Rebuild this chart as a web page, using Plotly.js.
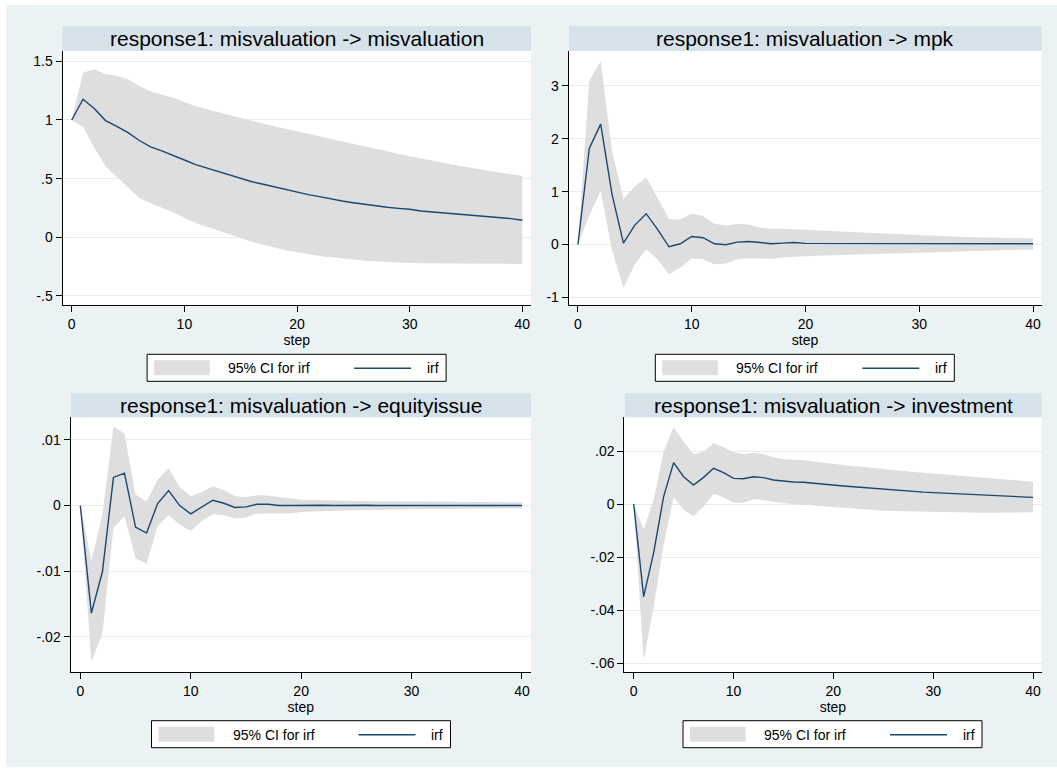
<!DOCTYPE html>
<html><head><meta charset="utf-8">
<script src="https://cdn.plot.ly/plotly-3.0.1.min.js"></script>
<style>html,body{margin:0;padding:0;background:#fff}#chart{width:1057px;height:769px}</style>
</head><body><div id="chart"></div>
<script>
// ---------------- DATA ----------------
const steps = [0,1,2,3,4,5,6,7,8,9,10,11,12,13,14,15,16,17,18,19,20,21,22,23,24,25,26,27,28,29,30,31,32,33,34,35,36,37,38,39,40];

const panelTitles = [
  "response1: misvaluation -> misvaluation",
  "response1: misvaluation -> mpk",
  "response1: misvaluation -> equityissue",
  "response1: misvaluation -> investment"
];
const legendLabels = ["95% CI for irf", "irf"];
const xTitle = "step";
const xTickVals = [0,10,20,30,40];

// misvaluation -> misvaluation
const misvIrf = [1.000,1.177,1.098,0.995,0.945,0.892,0.825,0.770,0.737,0.700,0.659,0.619,0.589,0.561,0.529,0.503,0.474,0.452,0.429,0.406,0.384,0.364,0.347,0.327,0.310,0.295,0.281,0.270,0.256,0.247,0.239,0.224,0.216,0.207,0.199,0.193,0.185,0.176,0.170,0.159,0.145];
const misvUpper = [1.000,1.402,1.433,1.389,1.377,1.345,1.292,1.243,1.215,1.189,1.153,1.118,1.091,1.066,1.038,1.014,0.988,0.969,0.946,0.926,0.903,0.884,0.861,0.838,0.818,0.795,0.776,0.753,0.733,0.710,0.690,0.670,0.651,0.634,0.616,0.599,0.582,0.565,0.551,0.537,0.523];
const misvLower = [1.000,0.942,0.764,0.604,0.515,0.424,0.335,0.291,0.253,0.214,0.167,0.123,0.090,0.058,0.024,-0.010,-0.038,-0.063,-0.088,-0.111,-0.128,-0.145,-0.159,-0.170,-0.182,-0.190,-0.199,-0.205,-0.210,-0.216,-0.219,-0.221,-0.222,-0.223,-0.224,-0.225,-0.225,-0.226,-0.226,-0.227,-0.227];
const misvTickVals = [-0.5,0,0.5,1,1.5];
const misvTickText = ["-.5","0",".5","1","1.5"];

// misvaluation -> mpk
const mpkIrf = [0,1.816,2.278,0.949,0.025,0.367,0.582,0.285,-0.044,0.013,0.152,0.127,0.013,-0.006,0.044,0.057,0.038,0.013,0.025,0.038,0.020,0.020,0.020,0.020,0.020,0.020,0.020,0.020,0.020,0.015,0.012,0.012,0.012,0.012,0.012,0.012,0.012,0.012,0.012,0.015,0.012];
const mpkUpper = [0,3.10,3.47,1.77,0.867,1.095,1.266,0.886,0.475,0.475,0.582,0.538,0.392,0.361,0.386,0.380,0.316,0.297,0.297,0.285,0.279,0.265,0.252,0.245,0.238,0.228,0.218,0.208,0.196,0.185,0.170,0.160,0.152,0.145,0.140,0.135,0.130,0.125,0.120,0.117,0.114];
const mpkLower = [0,0.55,1.013,-0.11,-0.818,-0.374,-0.089,-0.279,-0.564,-0.437,-0.266,-0.279,-0.374,-0.361,-0.279,-0.260,-0.266,-0.273,-0.247,-0.228,-0.222,-0.215,-0.210,-0.205,-0.200,-0.195,-0.188,-0.180,-0.172,-0.163,-0.155,-0.147,-0.140,-0.133,-0.126,-0.120,-0.114,-0.108,-0.103,-0.098,-0.095];
const mpkTickVals = [-1,0,1,2,3];
const mpkTickText = ["-1","0","1","2","3"];

// misvaluation -> equityissue
const eqIrf = [0,-0.01641,-0.0101,0.00429,0.00495,-0.00328,-0.00419,0.0003,0.00227,0.0,-0.00126,-0.0002,0.00081,0.00035,-0.0003,-0.0002,0.0002,0.0002,0.0,0.0,0.00005,0.00005,0.00005,0.0,0.00005,0.00005,0.00005,0.0,0.0,0.00005,0.00005,0.0,0.0,0.0,0.0,0.0,0.0,0.0,0.0,0.0,0.0];
const eqUpper = [0,-0.00843,-0.00136,0.01204,0.0110,0.00167,0.00066,0.00394,0.00571,0.00278,0.00141,0.00202,0.00293,0.00232,0.00141,0.00131,0.00157,0.00152,0.00131,0.00110,0.00090,0.00085,0.00080,0.00075,0.00072,0.00070,0.00068,0.00066,0.00064,0.00062,0.00060,0.00058,0.00057,0.00056,0.00055,0.00054,0.00053,0.00052,0.00051,0.00050,0.00050];
const eqLower = [0,-0.02384,-0.01955,-0.00338,-0.00162,-0.00808,-0.00884,-0.00313,-0.00147,-0.00288,-0.00389,-0.00237,-0.00131,-0.00146,-0.00197,-0.00187,-0.00121,-0.00121,-0.00131,-0.00120,-0.00100,-0.00090,-0.00085,-0.00080,-0.00075,-0.00070,-0.00067,-0.00064,-0.00062,-0.00060,-0.00058,-0.00056,-0.00054,-0.00052,-0.00050,-0.00048,-0.00046,-0.00044,-0.00042,-0.00041,-0.00040];
const eqTickVals = [-0.02,-0.01,0,0.01];
const eqTickText = ["-.02","-.01","0",".01"];

// misvaluation -> investment
const invIrf = [0,-0.03497,-0.01836,0.00277,0.0156,0.0103,0.00717,0.01006,0.01346,0.01182,0.00969,0.00956,0.01031,0.00994,0.00906,0.00855,0.0083,0.0082,0.0078,0.0074,0.00704,0.0068,0.0065,0.0062,0.0058,0.0055,0.0052,0.0050,0.0048,0.0045,0.0043,0.0041,0.0039,0.0037,0.0036,0.0034,0.0033,0.0031,0.0029,0.0027,0.0025];
const invUpper = [0,-0.00956,0.00151,0.01975,0.02893,0.02352,0.01874,0.01975,0.0229,0.02138,0.0195,0.01874,0.01937,0.01887,0.01761,0.01686,0.01673,0.0166,0.0160,0.0155,0.0151,0.0147,0.0143,0.0139,0.0135,0.0131,0.0128,0.0125,0.0121,0.0118,0.0115,0.0112,0.0109,0.0106,0.0102,0.0099,0.0096,0.0093,0.0090,0.0087,0.0084];
const invLower = [0,-0.05887,-0.03874,-0.01547,0.00252,-0.00226,-0.00453,-0.001,0.00377,0.00252,0.0005,0.0005,0.00176,0.00151,0.00088,0.00025,0.0,-0.0002,-0.0005,-0.0008,-0.0011,-0.0014,-0.0017,-0.0019,-0.0022,-0.0025,-0.0026,-0.0027,-0.0028,-0.0029,-0.0030,-0.0031,-0.0032,-0.0032,-0.0033,-0.0033,-0.0033,-0.0033,-0.0032,-0.0032,-0.0031];
const invTickVals = [-0.06,-0.04,-0.02,0,0.02];
const invTickText = ["-.06","-.04","-.02","0",".02"];

// ---------------- LAYOUT ----------------
const W = 1057, H = 769;
const px = v => v / W;
const py = v => 1 - v / H;
const FONT = "Liberation Sans, Arial, Helvetica, sans-serif";
const BG = "#EAF2F3", BAR = "#D6E2E9", CI = "#DEDEDE", NAVY = "#1A476F", GRID = "#E3ECEE";

const panels = [
  {irf: misvIrf, up: misvUpper, lo: misvLower, tv: misvTickVals, tt: misvTickText,
   plot: [62.5, 531, 51, 305], xr: [-0.82, 40.77], yr: [-0.577, 1.588], bar: [62.5, 531, 26, 51], leg: [296.6, 354.3]},
  {irf: mpkIrf, up: mpkUpper, lo: mpkLower, tv: mpkTickVals, tt: mpkTickText,
   plot: [568.7, 1041.5, 51, 305], xr: [-0.81, 40.74], yr: [-1.146, 3.662], bar: [569, 1041.5, 26, 51], leg: [804.8, 354.3]},
  {irf: eqIrf, up: eqUpper, lo: eqLower, tv: eqTickVals, tt: eqTickText,
   plot: [70.5, 531, 417.3, 672.3], xr: [-0.89, 40.82], yr: [-0.02543, 0.01346], bar: [71, 531, 393.3, 417.3], leg: [301, 720.7]},
  {irf: invIrf, up: invUpper, lo: invLower, tv: invTickVals, tt: invTickText,
   plot: [624.3, 1041.5, 417.3, 672.3], xr: [-0.94, 40.85], yr: [-0.0635, 0.03272], bar: [624.8, 1041.5, 393.3, 417.3], leg: [832.5, 720.7]}
];

const traces = [];
const layout = {
  width: W, height: H,
  margin: {l: 0, r: 0, t: 0, b: 0},
  paper_bgcolor: BG, plot_bgcolor: "#FFFFFF",
  showlegend: false,
  font: {family: FONT, size: 14, color: "#000"},
  shapes: [], annotations: []
};

panels.forEach((p, i) => {
  const n = i === 0 ? "" : String(i + 1);
  const xa = "x" + n, ya = "y" + n;
  traces.push({x: steps, y: p.lo, xaxis: xa, yaxis: ya, type: "scatter", mode: "lines",
    line: {width: 0, color: CI}, hoverinfo: "skip", showlegend: false});
  traces.push({x: steps, y: p.up, xaxis: xa, yaxis: ya, type: "scatter", mode: "lines",
    line: {width: 0, color: CI}, fill: "tonexty", fillcolor: CI, name: legendLabels[0], hoverinfo: "skip"});
  traces.push({x: steps, y: p.irf, xaxis: xa, yaxis: ya, type: "scatter", mode: "lines",
    line: {width: 1.4, color: NAVY}, name: legendLabels[1]});

  layout["xaxis" + n] = {
    domain: [px(p.plot[0]), px(p.plot[1])], range: p.xr, anchor: ya,
    tickvals: xTickVals, ticks: "outside", ticklen: 6, tickwidth: 1, tickcolor: "#000",
    showline: true, linecolor: "#000", linewidth: 1, showgrid: false, zeroline: false,
    tickfont: {family: FONT, size: 14, color: "#000"},
    title: {text: xTitle, font: {family: FONT, size: 14, color: "#000"}, standoff: 0},
    fixedrange: true
  };
  layout["yaxis" + n] = {
    domain: [py(p.plot[3]), py(p.plot[2])], range: p.yr, anchor: xa,
    tickvals: p.tv, ticktext: p.tt, ticks: "outside", ticklen: 6, tickwidth: 1, tickcolor: "#000",
    showline: true, linecolor: "#000", linewidth: 1, showgrid: true, gridcolor: GRID, gridwidth: 1,
    zeroline: false, tickfont: {family: FONT, size: 14, color: "#000"}, fixedrange: true
  };

  // title band
  layout.shapes.push({type: "rect", xref: "paper", yref: "paper", layer: "below",
    x0: px(p.bar[0]), x1: px(p.bar[1]), y0: py(p.bar[3]), y1: py(p.bar[2]),
    fillcolor: BAR, line: {width: 0}});
  layout.annotations.push({xref: "paper", yref: "paper", x: px((p.bar[0] + p.bar[1]) / 2),
    y: py((p.bar[2] + p.bar[3]) / 2), xanchor: "center", yanchor: "middle", showarrow: false,
    text: panelTitles[i], font: {family: FONT, size: 21, color: "#000"}});

  // legend box
  const lw = 299, lh = 27;
  const lx0 = p.leg[0] - lw / 2, ly0 = p.leg[1];
  layout.shapes.push({type: "rect", xref: "paper", yref: "paper",
    x0: px(lx0), x1: px(lx0 + lw), y0: py(ly0 + lh), y1: py(ly0),
    fillcolor: "#FFFFFF", line: {color: "#000", width: 1}});
  layout.shapes.push({type: "rect", xref: "paper", yref: "paper",
    x0: px(lx0 + 7), x1: px(lx0 + 62.6), y0: py(ly0 + 21), y1: py(ly0 + 6),
    fillcolor: CI, line: {width: 0}});
  layout.shapes.push({type: "line", xref: "paper", yref: "paper",
    x0: px(lx0 + 207), x1: px(lx0 + 264), y0: py(ly0 + 14), y1: py(ly0 + 14),
    line: {color: NAVY, width: 1.4}});
  layout.annotations.push({xref: "paper", yref: "paper", x: px(lx0 + 122), y: py(ly0 + 13.8),
    xanchor: "center", yanchor: "middle", showarrow: false, text: legendLabels[0],
    font: {family: FONT, size: 14, color: "#000"}});
  layout.annotations.push({xref: "paper", yref: "paper", x: px(lx0 + 285.5), y: py(ly0 + 13.8),
    xanchor: "center", yanchor: "middle", showarrow: false, text: legendLabels[1],
    font: {family: FONT, size: 14, color: "#000"}});
});

// white outer border strips
[[0, 6, 0, H], [0, W, 0, 5], [0, W, 767, H]].forEach(r => {
  layout.shapes.push({type: "rect", xref: "paper", yref: "paper", layer: "above",
    x0: px(r[0]), x1: px(r[1]), y0: py(r[3]), y1: py(r[2]), fillcolor: "#FFFFFF", line: {width: 0}});
});

Plotly.newPlot("chart", traces, layout, {displayModeBar: false, staticPlot: true});
</script>
</body></html>
